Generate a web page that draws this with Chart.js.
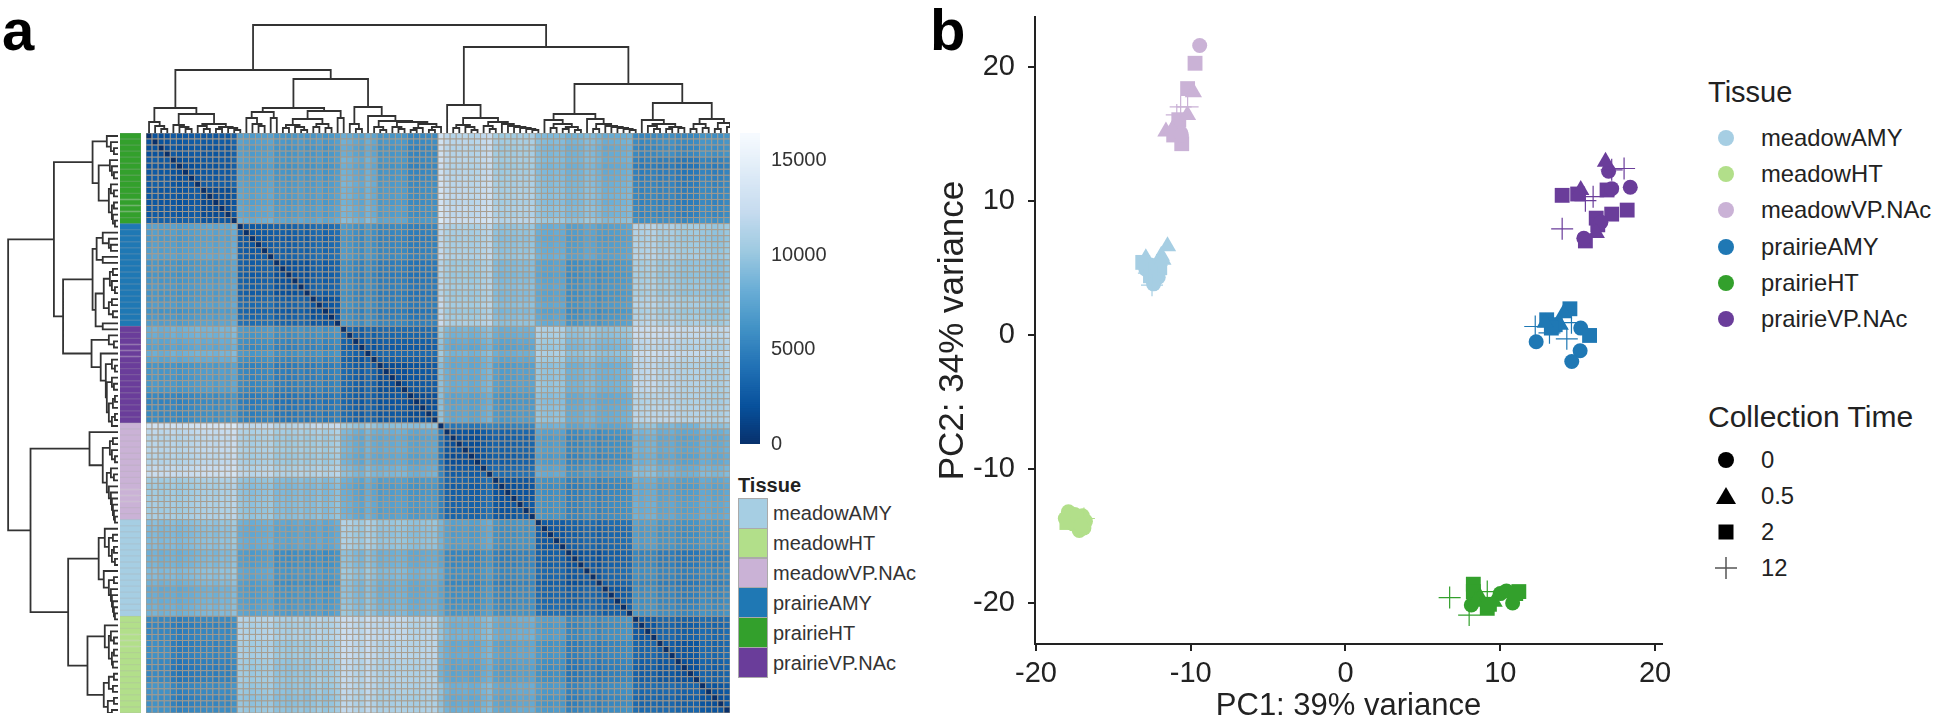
<!DOCTYPE html>
<html>
<head>
<meta charset="utf-8">
<title>Sample distances and PCA</title>
<script src="https://cdn.jsdelivr.net/npm/chart.js@4/dist/chart.umd.js"></script>
<style>
    html, body { margin: 0; background: #fff; }
    body { position: relative; width: 1946px; height: 721px; overflow: hidden; font-family: "Liberation Sans", sans-serif; color: #222; }
    canvas { position: absolute; }
    .soft { filter: blur(0.5px); }
    .txt { position: absolute; white-space: nowrap; line-height: 1; }
    .swatch { position: absolute; box-sizing: border-box; border: 1px solid #aaa; }
    svg { position: absolute; overflow: visible; }
</style>
</head>
<body>
<script>
// tissues, in the order of the legends
const tissues = ["meadowAMY", "meadowHT", "meadowVP.NAc", "prairieAMY", "prairieHT", "prairieVP.NAc"];
const tissueColors = ["#a6cee3", "#b2df8a", "#cab2d6", "#1f78b4", "#33a02c", "#6a3d9a"];
const collectionTimes = ["0", "0.5", "2", "12"];
const timeMarkers = { "0": "circle", "0.5": "triangle", "2": "rect", "12": "cross" };

// panel a: order of the samples along the heatmap, tissue index and how many samples
const blockTissues = [4, 3, 5, 2, 0, 1];
const blockSizes = [15, 17, 16, 16, 16, 16];
// each block is cut into three bands, heatBands has one value per band pair
const bandSizes = [4, 5, 6, 6, 6, 5, 6, 5, 5, 1, 8, 7, 5, 6, 5, 4, 7, 5];
const heatBands = [
    [2000, 2500, 2500, 7000, 6500, 6500, 7500, 6500, 5500, 13000, 11500, 10300, 9000, 8500, 8000, 5500, 5500, 6000],
    [2500, 2000, 2500, 7000, 6500, 6500, 7800, 6500, 5500, 13000, 11500, 10300, 9000, 8500, 8000, 5000, 4500, 5000],
    [2500, 2500, 1800, 7500, 7000, 7000, 8000, 7000, 6000, 13500, 12000, 10800, 9500, 9000, 8500, 5500, 5000, 5500],
    [7000, 7000, 7500, 2500, 3000, 3500, 6000, 5500, 5000, 12000, 10800, 9500, 8000, 7000, 7000, 11200, 10300, 9800],
    [6500, 6500, 7000, 3000, 2200, 3000, 5500, 5000, 4500, 11500, 10300, 9000, 7500, 6000, 6500, 10800, 9800, 9500],
    [6500, 6500, 7000, 3500, 3000, 2000, 5500, 5000, 4500, 12000, 10300, 9000, 7500, 6000, 6500, 11200, 10300, 9800],
    [7500, 7800, 8000, 6000, 5500, 5500, 2500, 3000, 3000, 9800, 8000, 7500, 10300, 9000, 9000, 12000, 11500, 11200],
    [6500, 6500, 7000, 5500, 5000, 5000, 3000, 2000, 2500, 9500, 8000, 7000, 9800, 8500, 8500, 12000, 11200, 10800],
    [5500, 5500, 6000, 5000, 4500, 4500, 3000, 2500, 1800, 9500, 7500, 6500, 9500, 8000, 8000, 11500, 11200, 10800],
    [13000, 13000, 13500, 12000, 11500, 12000, 9800, 9500, 9500, 1000, 4500, 5000, 8500, 7500, 7500, 9800, 8500, 9500],
    [11500, 11500, 12000, 10800, 10300, 10300, 8000, 8000, 7500, 4500, 2000, 3000, 7000, 5500, 6000, 8500, 7500, 8000],
    [10300, 10300, 10800, 9500, 9000, 9000, 7500, 7000, 6500, 5000, 3000, 2000, 6000, 5000, 5500, 8000, 7000, 7500],
    [9000, 9000, 9500, 8000, 7500, 7500, 10300, 9800, 9500, 8500, 7000, 6000, 2500, 3000, 3500, 7000, 6000, 6500],
    [8500, 8500, 9000, 7000, 6000, 6000, 9000, 8500, 8000, 7500, 5500, 5000, 3000, 2000, 3000, 5500, 4500, 5000],
    [8000, 8000, 8500, 7000, 6500, 6500, 9000, 8500, 8000, 7500, 6000, 5500, 3500, 3000, 2500, 6000, 5000, 5500],
    [5500, 5000, 5500, 11200, 10800, 11200, 12000, 12000, 11500, 9800, 8500, 8000, 7000, 5500, 6000, 2500, 3000, 3500],
    [5500, 4500, 5000, 10300, 9800, 10300, 11500, 11200, 11200, 8500, 7500, 7000, 6000, 4500, 5000, 3000, 2000, 3000],
    [6000, 5000, 5500, 9800, 9500, 9800, 11200, 10800, 10800, 9500, 8000, 7500, 6500, 5000, 5500, 3500, 3000, 2000]
];
// how far each sample sits above or below its band, from the lighter and darker stripes
const sampleOffsets = [
    0, 200, -100, 0, 100, -200, 0, 100, 300, -100, 0, -200, 100, 0, 600,
    200, 0, -200, 0, 100, 300, -100, 0, -200, 0, 200, -100, 0, 300, -200, 100, 500,
    700, 500, 0, -300, 600, 0, -200, 0, -100, 100, 0, -100, -200, 0, 100, 200,
    0, 300, -100, 0, 100, -200, -100, 500, 900, 200, -100, 0, 100, 300, 200, 400,
    300, 0, -100, 100, 0, -100, 0, 100, 600, 500, 0, -100, 0, 100, 300, 500,
    100, -200, 0, 100, 300, 400, 500, 100, -100, 0, 100, 300, 200, -100, 0, 300
];
const colorbarTop = 16480;
const colorbarTicks = [0, 5000, 10000, 15000];
const blues = ["#08306b", "#08519c", "#2171b5", "#4292c6", "#6baed6", "#9ecae1", "#c6dbef", "#deebf7", "#f7fbff"];

// clustering of the samples: [height, left, right], 0 is a single sample
const clusterH = [25,
    [11, 0, [7, 0, [4, 0, 0]]],
    [19,
        [8, 0, [6, 0, [4, 0, 0]]],
        [9, [7, 0, [4, 0, 0]], [6, [4, 0, 0], [5, 0, [3, 0, 0]]]]]];
const clusterA = [25,
    [21, [15, 0, [9, 0, [7, 0, 0]]], [15, 0, 0]],
    [22,
        [14, [8, [5, 0, 0], [6, 0, [3, 0, 0]]], [9, [6, 0, 0], [5, 0, 0]]],
        [15, 0, 0]]];
const clusterP = [26,
    [9, 0, [4, 0, 0]],
    [17, 0, [12,
        [6, 0, [3, 0, 0]],
        [11, [6, 0, [4, 0, 0]], [9, [5, [3, 0, 0], 0], [6, [3, 0, 0], 0]]]]]];
const clusterV = [28, 0, [15,
    [8, [5, 0, 0], [6, 0, [3, 0, 0]]],
    [11,
        [7, 0, [4, 0, 0]],
        [9, 0, [7, 0, [6, 0, [5, 0, [4, 0, [3, 0, 0]]]]]]]]];
const clusterM = [19,
    [13, 0, [9, [5, 0, 0], [6, [4, 0, 0], [3, 0, 0]]]],
    [14, 0, [9, [4, 0, 0], [7, 0, [6, 0, [5, 0, [4, 0, [3, 0, 0]]]]]]]];
const clusterT = [30,
    [13, 0, [9, [7, 0, [4, 0, 0]], [6, [4, 0, 0], [5, 0, 0]]]],
    [14, [9, [4, 0, 0], [5, 0, 0]], [10, [4, 0, 0], [6, 0, 0]]]];
const sampleTree = [108, [63, clusterH, [54, clusterA, clusterP]], [86, clusterV, [49, clusterM, clusterT]]];

// panel b: PCA scores per tissue
const meadowAMYx = [-12.9, -12.3, -12.1, -12.6, -11.5, -11.9, -12.9, -12.3, -12.6, -12.0, -12.4, -13.1, -12.5, -12.2, -12.7, -11.8];
const meadowAMYy = [4.9, 4.5, 4.3, 5.2, 6.6, 5.9, 5.7, 4.8, 4.4, 5.0, 3.8, 5.4, 3.7, 5.2, 4.6, 5.6];
const meadowAMYt = ["0", "0", "0", "0", "0.5", "0.5", "0.5", "2", "2", "2", "0", "2", "12", "12", "12", "0.5"];
const meadowHTx = [-18.1, -17.6, -17.2, -16.9, -16.8, -17.5, -17.9, -17.0, -17.3, -17.7, -18.0, -16.9, -16.9, -17.4, -17.1, -17.8];
const meadowHTy = [-13.7, -14.1, -14.6, -14.4, -13.9, -13.4, -13.2, -13.5, -14.0, -13.9, -14.0, -14.2, -13.7, -13.5, -14.2, -13.6];
const meadowHTt = ["0", "0", "0", "0", "0", "0", "0", "0", "0", "2", "2", "0", "12", "0", "0", "12"];
const meadowVPx = [-9.42, -9.72, -10.2, -9.83, -10.65, -10.2, -11.6, -10.58, -10.77, -10.86, -10.21, -11.1, -10.65, -11.2, -10.6, -10.9];
const meadowVPy = [21.57, 20.25, 18.36, 18.08, 17.0, 17.0, 15.17, 14.25, 16.04, 15.54, 16.4, 14.9, 15.07, 15.3, 14.9, 16.4];
const meadowVPt = ["0", "2", "2", "0.5", "12", "12", "0.5", "2", "2", "0", "0.5", "2", "0", "0.5", "0", "12"];
const prairieAMYx = [14.5, 13.0, 13.55, 15.2, 15.77, 12.32, 15.16, 14.62, 13.87, 12.26, 13.18, 14.3, 14.6, 13.3, 14.1, 12.9];
const prairieAMYy = [1.94, 1.12, 0.75, 0.5, -0.05, -0.52, -1.19, -1.99, 0.75, 0.62, 0.15, -0.3, 0.9, 0.5, 1.6, 0.9];
const prairieAMYt = ["2", "2", "2", "0", "2", "0", "0", "0", "0.5", "12", "12", "12", "12", "2", "0.5", "0.5"];
const prairieHTx = [6.73, 7.99, 9.16, 8.26, 8.26, 8.13, 9.16, 10.0, 11.2, 10.8, 8.7, 9.6, 10.4, 11.0, 8.4, 9.3];
const prairieHTy = [-19.6, -20.9, -19.15, -18.6, -19.15, -20.15, -20.4, -19.3, -19.15, -20.0, -19.6, -19.9, -19.1, -19.3, -19.9, -20.1];
const prairieHTt = ["12", "12", "12", "2", "2", "0", "2", "0", "2", "0", "0.5", "0.5", "0", "2", "0.5", "2"];
const prairieVPx = [14.0, 15.0, 16.9, 17.2, 18.2, 15.5, 16.2, 16.3, 18.4, 17.2, 15.4, 17.0, 16.5, 16.8, 15.2, 16.2, 14.0, 15.5, 16.0, 18.0, 17.2];
const prairieVPy = [10.4, 10.5, 10.8, 9.0, 9.3, 7.0, 8.7, 8.2, 11.0, 10.9, 7.2, 12.2, 8.4, 12.9, 10.8, 7.6, 7.9, 10.0, 10.3, 12.4, 12.3];
const prairieVPt = ["2", "2", "2", "2", "2", "2", "2", "2", "0", "0", "0", "0", "0", "0.5", "0.5", "0.5", "12", "12", "12", "12", "12"];

const pcaX = [meadowAMYx, meadowHTx, meadowVPx, prairieAMYx, prairieHTx, prairieVPx];
const pcaY = [meadowAMYy, meadowHTy, meadowVPy, prairieAMYy, prairieHTy, prairieVPy];
const pcaT = [meadowAMYt, meadowHTt, meadowVPt, prairieAMYt, prairieHTt, prairieVPt];

const pcaTicks = { xMin: -20.06, xMax: 20.45, yMin: -23.06, yMax: 23.7, step: 10 };
const inkColor = "#222";

Chart.defaults.animation = false;
Chart.defaults.responsive = false;
Chart.defaults.font.family = '"Liberation Sans", sans-serif';
Chart.defaults.layout.autoPadding = false;
Chart.defaults.plugins.legend.display = false;
Chart.defaults.plugins.tooltip.enabled = false;
Chart.defaults.events = [];

function addCanvas(left, top, width, height, className) {
    var canvas = document.createElement("canvas");
    canvas.width = width;
    canvas.height = height;
    canvas.style.left = left + "px";
    canvas.style.top = top + "px";
    canvas.style.width = width + "px";
    canvas.style.height = height + "px";
    if (className) canvas.className = className;
    document.body.append(canvas);
    return canvas;
}

function addText(text, left, top, size, bold, color) {
    var span = document.createElement("span");
    span.className = "txt";
    span.innerText = text;
    span.style.left = left + "px";
    span.style.top = top + "px";
    span.style.fontSize = size + "px";
    if (bold) span.style.fontWeight = "bold";
    if (color) span.style.color = color;
    document.body.append(span);
}

function hexToRgb(hex) {
    return [1, 3, 5].map(function (i) { return parseInt(hex.substr(i, 2), 16); });
}

function heatColor(value) {
    var pos = Math.min(value / colorbarTop, 1) * (blues.length - 1);
    var low = Math.min(Math.floor(pos), blues.length - 2);
    var a = hexToRgb(blues[low]);
    var b = hexToRgb(blues[low + 1]);
    var mix = pos - low;
    var rgb = a.map(function (c, i) { return Math.round(c + (b[i] - c) * mix); });
    return `rgb(${rgb[0]},${rgb[1]},${rgb[2]})`;
}

// a faint grey line on top of a tissue colour
function greyed(hex) {
    var rgb = hexToRgb(hex).map(function (c) { return Math.round(c * 0.75 + 170 * 0.25); });
    return `rgb(${rgb[0]},${rgb[1]},${rgb[2]})`;
}

function hiddenScale(min, max, reverse) {
    return { type: "linear", display: false, min: min, max: max, reverse: !!reverse };
}

// band index of every sample
function sampleBands() {
    var bands = [];
    bandSizes.forEach(function (size, band) {
        for (var i = 0; i < size; i++) bands.push(band);
    });
    return bands;
}

function drawHeatmap() {
    var bands = sampleBands();
    var cells = [];
    var colors = [];
    for (var row = 0; row < bands.length; row++) {
        for (var col = 0; col < bands.length; col++) {
            // a sample has no distance to itself
            var value = 0;
            if (row !== col) value = heatBands[bands[row]][bands[col]] + sampleOffsets[row] + sampleOffsets[col];
            cells.push({ x: col + 0.5, y: row + 0.5 });
            colors.push(heatColor(value));
        }
    }
    new Chart(addCanvas(146, 133, 584, 580, "soft"), {
        type: "scatter",
        data: {
            datasets: [{
                data: cells,
                pointStyle: "rect",
                pointRadius: 4.3,
                pointBackgroundColor: colors,
                pointBorderColor: "rgba(168,154,138,0.9)",
                pointBorderWidth: 1
            }]
        },
        options: { scales: { x: hiddenScale(0, 96), y: hiddenScale(0, 96, true) } }
    });
}

// turn the tree into line pieces, x along the samples and y is the height
function treeLines(node, counter, out) {
    if (node === 0) {
        counter.next += 1;
        return { pos: counter.next - 0.5, height: 0 };
    }
    var left = treeLines(node[1], counter, out);
    var right = treeLines(node[2], counter, out);
    out.push({ pos: left.pos, height: left.height });
    out.push({ pos: left.pos, height: node[0] });
    out.push({ pos: right.pos, height: node[0] });
    out.push({ pos: right.pos, height: right.height });
    out.push({ pos: right.pos, height: null });
    return { pos: (left.pos + right.pos) / 2, height: node[0] };
}

function drawDendrograms() {
    var pieces = [];
    treeLines(sampleTree, { next: 0 }, pieces);
    var lineStyle = { showLine: true, pointRadius: 0, borderColor: "#333", borderWidth: 1.8, spanGaps: false };

    var topData = pieces.map(function (p) { return { x: p.pos, y: p.height }; });
    new Chart(addCanvas(146, 0, 584, 133, "soft"), {
        type: "scatter",
        data: { datasets: [Object.assign({ data: topData }, lineStyle)] },
        options: { scales: { x: hiddenScale(0, 96), y: hiddenScale(0, 133) } }
    });

    var sideData = pieces.map(function (p) { return { x: p.height, y: p.pos }; });
    new Chart(addCanvas(0, 133, 118, 580, "soft"), {
        type: "scatter",
        data: { datasets: [Object.assign({ data: sideData }, lineStyle)] },
        options: { scales: { x: hiddenScale(0, 116, true), y: hiddenScale(0, 96, true) } }
    });
}

function drawAnnotation() {
    var labels = [];
    var colors = [];
    blockTissues.forEach(function (tissue, b) {
        for (var i = 0; i < blockSizes[b]; i++) {
            labels.push(tissues[tissue]);
            colors.push(tissueColors[tissue]);
        }
    });
    new Chart(addCanvas(120, 133, 21, 580, "soft"), {
        type: "bar",
        data: {
            labels: labels,
            datasets: [{
                data: labels.map(function () { return 1; }),
                backgroundColor: colors,
                borderColor: colors.map(function (c) { return greyed(c); }),
                borderWidth: 1,
                categoryPercentage: 1,
                barPercentage: 1
            }]
        },
        options: {
            indexAxis: "y",
            scales: {
                x: hiddenScale(0, 1),
                y: { display: false }
            }
        }
    });
}

function drawColorbar() {
    var levels = [];
    var colors = [];
    for (var v = 0; v <= colorbarTop; v += 100) {
        levels.push({ x: 1, y: v });
        colors.push(heatColor(v));
    }
    new Chart(addCanvas(740, 121, 110, 335), {
        type: "bar",
        data: {
            datasets: [{ data: levels, backgroundColor: colors, barThickness: 3 }]
        },
        options: {
            indexAxis: "y",
            layout: { padding: { top: 12, bottom: 12 } },
            scales: {
                x: hiddenScale(0, 1),
                y: {
                    type: "linear",
                    position: "right",
                    offset: false,
                    min: 0,
                    max: colorbarTop,
                    afterFit: function (scale) {
                        scale.width = 90;
                        scale.paddingTop = 0;
                        scale.paddingBottom = 0;
                    },
                    afterBuildTicks: function (scale) {
                        scale.ticks = colorbarTicks.map(function (v) { return { value: v }; });
                    },
                    grid: { display: false },
                    border: { display: false },
                    ticks: {
                        padding: 3,
                        color: "#333",
                        font: { size: 20 },
                        callback: function (value) { return String(value); }
                    }
                }
            }
        }
    });
}

function drawHeatLegend() {
    addText("Tissue", 738, 475, 20, true, "#222");
    tissues.forEach(function (name, i) {
        var swatch = document.createElement("div");
        swatch.className = "swatch";
        swatch.style.left = "738px";
        swatch.style.top = (498 + i * 29.8) + "px";
        swatch.style.width = "30px";
        swatch.style.height = "30.5px";
        swatch.style.background = tissueColors[i];
        document.body.append(swatch);
        addText(name, 773, 503 + i * 29.9, 20, false, "#333");
    });
}

function drawPca() {
    var datasets = tissues.map(function (name, t) {
        var times = pcaT[t];
        var radii = times.map(function (c) {
            return { circle: 7.5, triangle: 10, rect: 10.5, cross: 11 }[timeMarkers[c]];
        });
        return {
            label: name,
            data: pcaX[t].map(function (x, i) { return { x: x, y: pcaY[t][i] }; }),
            pointStyle: times.map(function (c) { return timeMarkers[c]; }),
            pointRadius: radii,
            backgroundColor: tissueColors[t],
            borderColor: tissueColors[t],
            pointBorderWidth: times.map(function (c) { return c === "12" ? 1.2 : 0; })
        };
    });
    var axisStyle = {
        grid: { drawOnChartArea: false, drawTicks: true, tickLength: 7, color: inkColor, lineWidth: 2 },
        border: { display: true, color: inkColor, width: 2 }
    };
    new Chart(addCanvas(932, 0, 750, 725), {
        type: "scatter",
        data: { datasets: datasets },
        options: {
            layout: { padding: { top: 17, right: 20 } },
            scales: {
                x: Object.assign({
                    type: "linear",
                    min: pcaTicks.xMin,
                    max: pcaTicks.xMax,
                    afterFit: function (scale) {
                        scale.height = 81;
                        scale.paddingLeft = 0;
                        scale.paddingRight = 0;
                    },
                    ticks: { stepSize: pcaTicks.step, includeBounds: false, maxRotation: 0, padding: 6, color: inkColor, font: { size: 29 } },
                    title: { display: true, text: "PC1: 39% variance", color: inkColor, font: { size: 31 }, padding: 0 }
                }, axisStyle),
                y: Object.assign({
                    type: "linear",
                    min: pcaTicks.yMin,
                    max: pcaTicks.yMax,
                    afterFit: function (scale) {
                        scale.width = 103;
                        scale.paddingTop = 0;
                        scale.paddingBottom = 0;
                    },
                    ticks: { stepSize: pcaTicks.step, includeBounds: false, padding: 13, color: inkColor, font: { size: 29 } },
                    title: { display: true, text: "PC2: 34% variance", color: inkColor, font: { size: 35 }, padding: 0 }
                }, axisStyle)
            }
        }
    });
}

function addMarker(kind, cx, cy, color) {
    var ns = "http://www.w3.org/2000/svg";
    var svg = document.createElementNS(ns, "svg");
    svg.setAttribute("width", 30);
    svg.setAttribute("height", 30);
    svg.style.left = (cx - 15) + "px";
    svg.style.top = (cy - 15) + "px";
    var shape;
    if (kind === "circle") {
        shape = document.createElementNS(ns, "circle");
        shape.setAttribute("cx", 15);
        shape.setAttribute("cy", 15);
        shape.setAttribute("r", 8);
    } else if (kind === "triangle") {
        shape = document.createElementNS(ns, "path");
        shape.setAttribute("d", "M15 6 L25 23 L5 23 Z");
    } else if (kind === "rect") {
        shape = document.createElementNS(ns, "rect");
        shape.setAttribute("x", 7.5);
        shape.setAttribute("y", 7.5);
        shape.setAttribute("width", 15);
        shape.setAttribute("height", 15);
    } else {
        shape = document.createElementNS(ns, "path");
        shape.setAttribute("d", "M4 15 H26 M15 4 V26");
        shape.setAttribute("stroke", "#555");
        shape.setAttribute("stroke-width", 1.5);
    }
    if (kind !== "cross") shape.setAttribute("fill", color);
    svg.append(shape);
    document.body.append(svg);
}

function drawPcaLegend() {
    addText("Tissue", 1708, 78, 29);
    tissues.forEach(function (name, i) {
        addMarker("circle", 1726, 138 + i * 36.2, tissueColors[i]);
        addText(name, 1761, 126 + i * 36.2, 23.8);
    });
    addText("Collection Time", 1708, 402, 30);
    collectionTimes.forEach(function (name, i) {
        addMarker(timeMarkers[name], 1726, 460 + i * 36, "#000");
        addText(name, 1761, 448 + i * 36, 23.8);
    });
}

function main() {
    drawDendrograms();
    drawAnnotation();
    drawHeatmap();
    drawColorbar();
    drawHeatLegend();
    drawPca();
    drawPcaLegend();
    addText("a", 2, 1, 58, true, "#000");
    addText("b", 930, 1, 58, true, "#000");
}

document.addEventListener("DOMContentLoaded", main);
</script>
</body>
</html>
